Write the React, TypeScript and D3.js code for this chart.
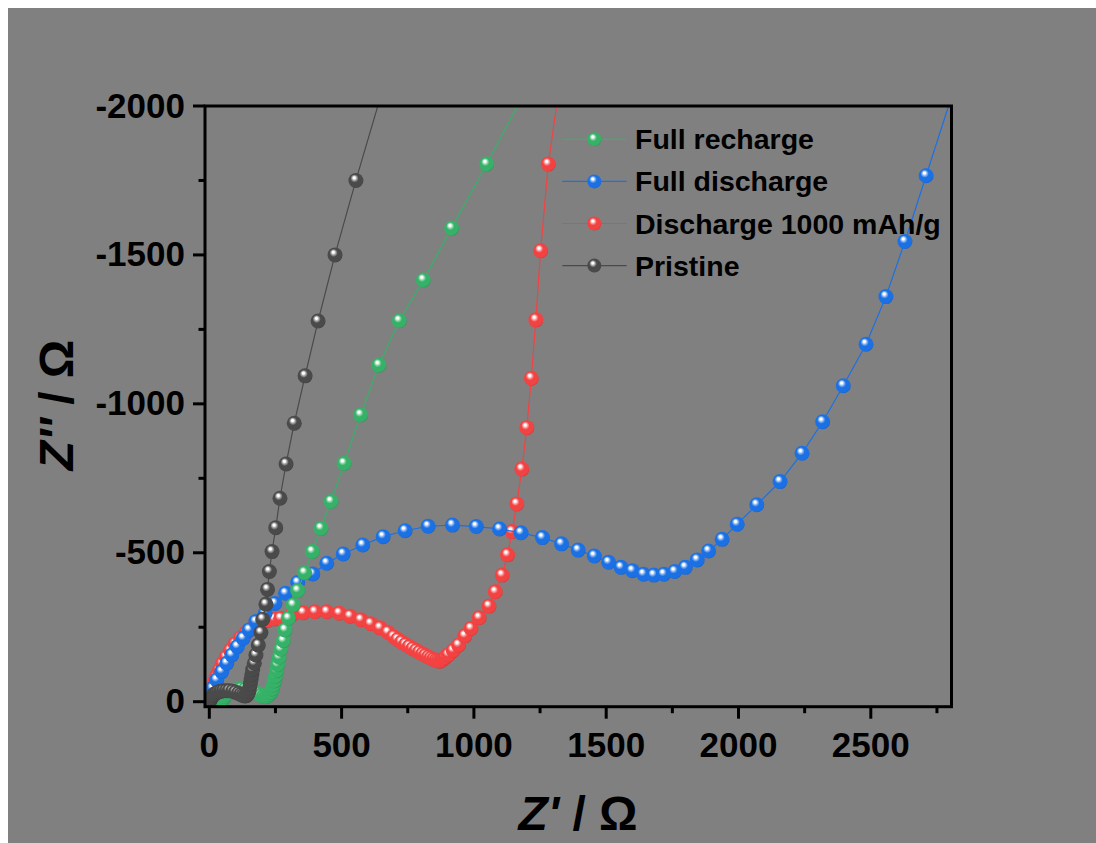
import React from "react";
import * as d3 from "d3";

const W = 1088;
const H = 835;

const xDomain = [-16.3, 2805];
const yDomain = [16.8, -2000];
const xMajorTicks = [0, 500, 1000, 1500, 2000, 2500];
const xMinorTicks = [250, 750, 1250, 1750, 2250, 2750];
const yMajorTicks = [0, -500, -1000, -1500, -2000];
const yMinorTicks = [-250, -750, -1250, -1750];

const seriesNames = ["Full recharge", "Full discharge", "Discharge 1000 mAh/g", "Pristine"];
const seriesColors = ["#36b168", "#1b70e4", "#f24242", "#4a4a4a"];

// Full recharge (green)
const rechargeRe = [47, 52, 59, 68, 79, 92, 106, 121, 136, 150, 163, 175, 186, 196, 205, 213, 220, 227, 233, 238, 242, 246, 250, 254, 258, 264, 270, 280, 286, 299, 317, 334, 360, 389, 422, 460, 509, 572, 641, 718, 809, 916, 1048, 1230];
const rechargeIm = [-3, -10, -18, -26, -33, -38, -41, -43, -42, -40, -36, -31, -26, -21, -18, -17, -19, -24, -32, -43, -56, -70, -86, -104, -124, -149, -176, -205, -241, -280, -325, -373, -433, -504, -582, -672, -800, -963, -1130, -1279, -1416, -1590, -1805, -2110];

// Full discharge (blue)
const dischargeRe = [2, 6, 13, 28, 47, 66, 85, 106, 128, 151, 176, 211, 248, 288, 334, 391, 444, 506, 580, 657, 740, 827, 919, 1009, 1097, 1178, 1259, 1331, 1394, 1455, 1509, 1556, 1599, 1641, 1680, 1718, 1759, 1799, 1844, 1887, 1938, 1995, 2069, 2157, 2240, 2318, 2396, 2482, 2557, 2629, 2709, 2812];
const dischargeIm = [-8, -24, -45, -73, -101, -129, -157, -185, -213, -241, -269, -297, -330, -364, -400, -429, -465, -496, -526, -554, -574, -589, -593, -588, -580, -567, -551, -530, -509, -489, -468, -451, -440, -428, -425, -428, -437, -451, -476, -506, -545, -596, -661, -739, -834, -940, -1061, -1200, -1360, -1545, -1766, -2050];

// Discharge 1000 mAh/g (red)
const partialRe = [2, 5, 9, 14, 20, 28, 38, 50, 64, 80, 98, 118, 140, 164, 190, 218, 245, 270, 311, 355, 399, 444, 491, 532, 573, 610, 645, 675, 697, 712, 727, 742, 756, 769, 782, 794, 806, 817, 828, 838, 848, 857, 865, 872, 879, 886, 893, 904, 922, 942, 966, 989, 1020, 1057, 1081, 1107, 1127, 1144, 1162, 1181, 1200, 1217, 1234, 1252, 1281, 1330];
const partialIm = [-8, -22, -38, -52, -68, -86, -106, -128, -150, -172, -194, -214, -232, -248, -262, -272, -278, -280, -291, -299, -302, -302, -297, -287, -275, -262, -248, -233, -218, -209, -200, -192, -185, -178, -172, -166, -160, -155, -150, -146, -142, -139, -137, -136, -139, -144, -150, -158, -172, -190, -221, -246, -282, -321, -369, -425, -493, -571, -664, -781, -920, -1086, -1282, -1514, -1805, -2110];

// Pristine (dark grey)
const pristineRe = [2, 5, 9, 14, 20, 27, 35, 44, 54, 65, 76, 88, 99, 110, 119, 127, 134, 140, 145, 149, 152, 155, 158, 161, 164, 170, 176, 185, 195, 202, 214, 220, 227, 237, 251, 267, 290, 321, 362, 411, 475, 554, 660];
const pristineIm = [-3, -9, -15, -21, -26, -30, -33, -35, -37, -37, -37, -35, -32, -28, -24, -21, -19, -20, -25, -34, -46, -60, -76, -92, -108, -129, -157, -190, -232, -277, -327, -377, -437, -504, -584, -683, -798, -935, -1094, -1278, -1500, -1750, -2070];

const seriesRe = [rechargeRe, dischargeRe, partialRe, pristineRe];
const seriesIm = [rechargeIm, dischargeIm, partialIm, pristineIm];
const drawOrder = [2, 1, 0, 3];

const PL = 197, PR = 943.5, PT = 98, PB = 698.7;
const FONT = "'Liberation Sans', Arial, Helvetica, sans-serif";

export default function App() {
  const x = d3.scaleLinear().domain(xDomain).range([PL, PR]);
  const y = d3.scaleLinear().domain(yDomain).range([PB, PT]);
  const line = d3.line<[number, number]>().x((d) => x(d[0])).y((d) => y(d[1]));

  const gradients = seriesColors.map((c, i) => {
    const base = d3.color(c)!;
    const light = d3.interpolateRgb(c, "#ffffff")(0.55);
    const dark = base.darker(0.7).formatHex();
    return (
      <radialGradient key={i} id={`sph${i}`} cx="0.45" cy="0.45" r="0.6" fx="0.38" fy="0.3">
        <stop offset="0" stopColor="#ffffff" />
        <stop offset="0.12" stopColor="#ffffff" />
        <stop offset="0.25" stopColor={light} />
        <stop offset="0.45" stopColor={c} />
        <stop offset="0.85" stopColor={c} />
        <stop offset="1" stopColor={dark} />
      </radialGradient>
    );
  });

  const legendY0 = 131.3;
  const legendStep = 42.1;

  return (
    <div style={{ position: "fixed", left: 8, top: 8, right: 0, bottom: 0, background: "#808080" }}>
      <svg width={W} height={H} style={{ display: "block" }}>
        <defs>
          {gradients}
          <clipPath id="plotClip">
            <rect x={PL} y={PT} width={PR - PL} height={PB - PT} />
          </clipPath>
        </defs>
        <rect x={0} y={0} width={W} height={H} fill="#808080" />

        <g clipPath="url(#plotClip)">
          {drawOrder.map((si) => {
            const pts: [number, number][] = seriesRe[si].map((v, k) => [v, seriesIm[si][k]]);
            return (
              <g key={si}>
                <path d={line(pts) || ""} fill="none" stroke={seriesColors[si]} strokeWidth={1.2} />
                {pts.map((p, k) => (
                  <circle key={k} cx={x(p[0])} cy={y(p[1])} r={7.5} fill={`url(#sph${si})`} />
                ))}
              </g>
            );
          })}
        </g>

        {/* frame */}
        <rect x={PL} y={PT} width={PR - PL} height={PB - PT} fill="none" stroke="#000" strokeWidth={3} />

        {/* x ticks */}
        {xMajorTicks.map((t) => (
          <g key={`xm${t}`}>
            <line x1={x(t)} x2={x(t)} y1={PB} y2={PB + 12} stroke="#000" strokeWidth={3} />
            <text x={x(t)} y={748.5} textAnchor="middle" fontFamily={FONT} fontWeight="bold" fontSize={35} fill="#000">
              {t}
            </text>
          </g>
        ))}
        {xMinorTicks.map((t) => (
          <line key={`xn${t}`} x1={x(t)} x2={x(t)} y1={PB} y2={PB + 6.5} stroke="#000" strokeWidth={3} />
        ))}

        {/* y ticks */}
        {yMajorTicks.map((t) => (
          <g key={`ym${t}`}>
            <line x1={PL - 12} x2={PL} y1={y(t)} y2={y(t)} stroke="#000" strokeWidth={3} />
            <text x={177} y={y(t) + 11.5} textAnchor="end" fontFamily={FONT} fontWeight="bold" fontSize={35} fill="#000">
              {t}
            </text>
          </g>
        ))}
        {yMinorTicks.map((t) => (
          <line key={`yn${t}`} x1={PL - 6.5} x2={PL} y1={y(t)} y2={y(t)} stroke="#000" strokeWidth={3} />
        ))}

        {/* axis titles */}
        <text x={570} y={822} textAnchor="middle" fontFamily={FONT} fontWeight="bold" fontSize={48} fill="#000">
          <tspan fontStyle="italic">Z'</tspan>
          <tspan> / Ω</tspan>
        </text>
        <text
          transform={`translate(65,397) rotate(-90)`}
          textAnchor="middle"
          fontFamily={FONT}
          fontWeight="bold"
          fontSize={48}
          fill="#000"
        >
          <tspan fontStyle="italic">Z''</tspan>
          <tspan> / Ω</tspan>
        </text>

        {/* legend */}
        {seriesNames.map((name, i) => {
          const cy = legendY0 + i * legendStep;
          return (
            <g key={name}>
              <line x1={554.3} x2={618.7} y1={cy} y2={cy} stroke={seriesColors[i]} strokeWidth={1.2} />
              <circle cx={586.3} cy={cy} r={7} fill={`url(#sph${i})`} />
              <text x={627} y={cy + 10} fontFamily={FONT} fontWeight="bold" fontSize={28.5} fill="#000">
                {name}
              </text>
            </g>
          );
        })}
      </svg>
    </div>
  );
}
